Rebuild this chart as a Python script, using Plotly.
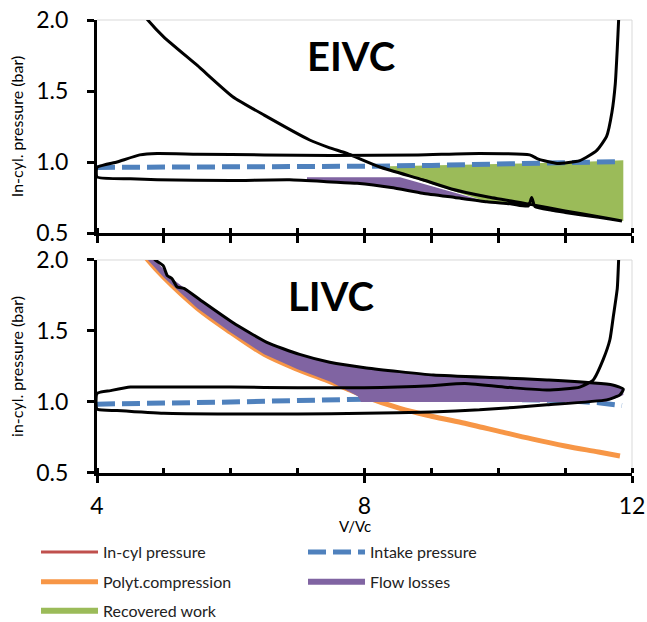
import plotly.graph_objects as go
from plotly.subplots import make_subplots

# ---------------- data ----------------
# EIVC: in-cylinder pressure loop (exhaust -> intake -> expansion -> compression)
eivc_cyl_x = [11.82, 11.8, 11.78, 11.75, 11.7, 11.62, 11.47, 11.22, 10.88, 10.6, 10.47,
              9.72, 8.8, 7.5, 6.5, 5.5, 4.9, 4.64, 4.3, 4.0,
              4.0, 4.5, 4.9, 6.0, 6.88, 7.5, 7.89, 8.4, 8.87, 9.35, 9.83, 10.2, 10.45, 10.5,
              10.55, 10.8, 11.0, 11.5, 11.85,
              11.5, 11.0, 10.5, 9.83, 9.3, 8.87, 8.23, 7.74, 7.48, 7.18, 6.5, 6.03, 5.5,
              5.0, 4.76, 4.6]
eivc_cyl_p = [2.2, 2.0, 1.8, 1.55, 1.35, 1.18, 1.08, 1.01, 0.99, 1.02, 1.05,
              1.06, 1.05, 1.045, 1.05, 1.055, 1.06, 1.05, 1.0, 0.962,
              0.895, 0.882, 0.875, 0.87, 0.875, 0.86, 0.85, 0.82, 0.78, 0.75, 0.72, 0.705,
              0.69, 0.75, 0.685, 0.66, 0.645, 0.61, 0.585,
              0.615, 0.655, 0.70, 0.755, 0.81, 0.875, 0.965, 1.06, 1.10, 1.155, 1.33, 1.46,
              1.68, 1.88, 2.0, 2.1]
eivc_intake_x = [4.0, 5.0, 6.0, 7.0, 8.0, 9.0, 10.0, 11.0, 11.85]
eivc_intake_p = [0.962, 0.962, 0.963, 0.965, 0.97, 0.976, 0.985, 0.993, 1.003]
eivc_recovered_x = [8.2, 9.0, 10.0, 11.0, 11.87, 11.87, 11.5, 11.0, 10.5, 9.83, 9.0, 8.2]
eivc_recovered_p = [0.968, 0.976, 0.986, 0.996, 1.012, 0.585, 0.61, 0.645, 0.69, 0.72, 0.845, 0.965]
eivc_losses_x = [7.14, 8.53, 9.83, 9.35, 8.87, 8.4, 7.89, 7.5, 7.14]
eivc_losses_p = [0.892, 0.892, 0.72, 0.75, 0.78, 0.82, 0.85, 0.86, 0.87]

# LIVC: in-cylinder pressure loop
livc_cyl_x = [11.82, 11.8, 11.78, 11.72, 11.67, 11.57, 11.42, 11.22, 10.73, 10.22, 9.5,
              9.0, 8.5, 8.0, 7.0, 6.0, 5.0, 4.5, 4.2, 4.0,
              4.0, 4.3, 5.0, 6.0, 7.0, 8.0, 9.0, 9.72, 10.73, 11.62, 11.82, 11.87,
              11.71, 10.73, 10.02, 9.03, 8.03, 7.48, 7.03, 6.54, 6.03, 5.54, 5.3, 5.2,
              5.12, 5.05, 4.99, 4.87, 4.75]
livc_cyl_p = [2.2, 2.0, 1.8, 1.6, 1.44, 1.3, 1.155, 1.105, 1.085, 1.1, 1.13,
              1.115, 1.105, 1.1, 1.1, 1.105, 1.105, 1.105, 1.08, 1.06,
              0.95, 0.94, 0.92, 0.915, 0.915, 0.92, 0.93, 0.945, 0.98, 1.015, 1.05, 1.09,
              1.12, 1.155, 1.17, 1.19, 1.24, 1.28, 1.335, 1.42, 1.56, 1.72, 1.80, 1.81,
              1.87, 1.89, 1.96, 2.0, 2.08]
livc_poly_x = [4.6, 4.76, 5.0, 5.5, 6.0, 6.5, 7.0, 7.5, 7.78, 8.0, 8.53, 9.0, 9.5, 9.77,
               10.0, 10.5, 11.0, 11.5, 11.82]
livc_poly_p = [2.1, 2.0, 1.876, 1.66, 1.49, 1.336, 1.23, 1.14, 1.085, 1.04, 0.955, 0.9,
               0.85, 0.82, 0.795, 0.74, 0.69, 0.648, 0.62]
livc_intake_x = [4.0, 5.0, 6.0, 7.0, 8.0, 9.0, 10.0, 11.0, 11.5, 11.85]
livc_intake_p = [0.985, 0.99, 1.0, 1.01, 1.02, 1.02, 1.02, 1.01, 0.995, 0.975]
livc_losses_x = [4.87, 5.12, 5.54, 6.03, 6.54, 7.03, 7.48, 8.03, 9.03, 10.02, 10.73, 11.71,
                 11.87, 11.87, 11.6, 11.0, 10.0, 9.0, 7.95, 7.9, 7.5, 7.0, 6.5, 6.0, 5.5,
                 5.0, 4.76]
livc_losses_p = [2.0, 1.87, 1.72, 1.56, 1.42, 1.335, 1.28, 1.24, 1.19, 1.17, 1.155, 1.12,
                 1.09, 1.05, 1.0, 1.0, 1.0, 1.0, 1.0, 1.04, 1.14, 1.23, 1.336, 1.49, 1.66,
                 1.876, 2.0]

x_ticks = [4, 5, 6, 7, 8, 9, 10, 11, 12]
x_ticktext = ["4", "", "", "", "8", "", "", "", "12"]
y_ticks = [0.5, 1.0, 1.5, 2.0]
y_ticktext = ["0.5", "1.0", "1.5", "2.0"]
panel_labels = ["EIVC", "LIVC"]
legend_names = ["In-cyl pressure", "Intake pressure", "Polyt.compression",
                "Flow losses", "Recovered work"]

# ---------------- styles ----------------
FONT = "Lato"
C_RED = "#C0504D"
C_BLUE = "#4F81BD"
C_ORANGE = "#F79646"
C_PURPLE = "#8064A2"
C_GREEN = "#9BBB59"

fig = make_subplots(rows=2, cols=1, shared_xaxes=False, vertical_spacing=0.0596)

# ---- EIVC panel ----
fig.add_trace(go.Scatter(x=eivc_recovered_x, y=eivc_recovered_p, fill="toself",
                         fillcolor=C_GREEN, line=dict(width=0, color=C_GREEN),
                         mode="lines", showlegend=False, hoverinfo="skip"), row=1, col=1)
fig.add_trace(go.Scatter(x=eivc_losses_x, y=eivc_losses_p, fill="toself",
                         fillcolor=C_PURPLE, line=dict(width=0, color=C_PURPLE),
                         mode="lines", showlegend=False, hoverinfo="skip"), row=1, col=1)
fig.add_trace(go.Scatter(x=eivc_intake_x, y=eivc_intake_p, mode="lines",
                         line=dict(color=C_BLUE, width=5, dash="18px,7px"),
                         name=legend_names[1], legend="legend"), row=1, col=1)
fig.add_trace(go.Scatter(x=eivc_cyl_x, y=eivc_cyl_p, mode="lines",
                         line=dict(color="black", width=3, shape="spline", smoothing=0.5),
                         showlegend=False), row=1, col=1)

# ---- LIVC panel ----
fig.add_trace(go.Scatter(x=livc_intake_x, y=livc_intake_p, mode="lines",
                         line=dict(color=C_BLUE, width=5, dash="18px,7px"),
                         showlegend=False), row=2, col=1)
fig.add_trace(go.Scatter(x=livc_poly_x, y=livc_poly_p, mode="lines",
                         line=dict(color=C_ORANGE, width=5, shape="spline"),
                         name=legend_names[2], legend="legend2", legendrank=1), row=2, col=1)
fig.add_trace(go.Scatter(x=livc_losses_x, y=livc_losses_p, fill="toself",
                         fillcolor=C_PURPLE, line=dict(width=0, color=C_PURPLE),
                         mode="lines", showlegend=False, hoverinfo="skip"), row=2, col=1)
fig.add_trace(go.Scatter(x=livc_cyl_x, y=livc_cyl_p, mode="lines",
                         line=dict(color="black", width=3, shape="spline", smoothing=0.5),
                         showlegend=False), row=2, col=1)

# ---- legend-only entries ----
fig.add_trace(go.Scatter(x=[None], y=[None], mode="lines",
                         line=dict(color=C_RED, width=3), name=legend_names[0],
                         legend="legend", legendrank=1), row=2, col=1)
fig.add_trace(go.Scatter(x=[None], y=[None], mode="lines",
                         line=dict(color=C_PURPLE, width=6), name=legend_names[3],
                         legend="legend2", legendrank=2), row=2, col=1)
fig.add_trace(go.Scatter(x=[None], y=[None], mode="lines",
                         line=dict(color=C_GREEN, width=6), name=legend_names[4],
                         legend="legend3"), row=2, col=1)

axis_common = dict(range=[4, 12], tickvals=x_ticks, ticks="outside", ticklen=7,
                   tickwidth=3, tickcolor="black", showline=True, linewidth=3,
                   linecolor="black", showgrid=False, zeroline=False,
                   minor=dict(tickvals=x_ticks, ticks="inside", ticklen=5, tickwidth=3,
                              tickcolor="black", showgrid=False),
                   tickfont=dict(family=FONT, size=23, color="black"))
fig.update_xaxes(**axis_common)
fig.update_xaxes(showticklabels=False, row=1, col=1)
fig.update_xaxes(ticktext=x_ticktext, ticklabelstandoff=3, row=2, col=1)

yaxis_common = dict(range=[0.5, 2.0], tickvals=y_ticks, ticktext=y_ticktext,
                    ticks="outside", ticklen=7, tickwidth=3, tickcolor="black",
                    showline=True, linewidth=3, linecolor="black", showgrid=False,
                    zeroline=False, ticklabelstandoff=14,
                    tickfont=dict(family=FONT, size=23, color="black"))
fig.update_yaxes(**yaxis_common)
fig.update_yaxes(title=dict(text="In-cyl. pressure (bar)",
                            font=dict(family=FONT, size=16, color="black"), standoff=9),
                 row=1, col=1)
fig.update_yaxes(title=dict(text="in-cyl. pressure (bar)",
                            font=dict(family=FONT, size=16, color="black"), standoff=9),
                 row=2, col=1)

# light grey plot-area border (top and right)
for xr, yr in [("x domain", "y domain"), ("x2 domain", "y2 domain")]:
    fig.add_shape(type="line", xref=xr, yref=yr, x0=0, x1=1, y0=1, y1=1,
                  line=dict(color="#D9D9D9", width=1), layer="below")
    fig.add_shape(type="line", xref=xr, yref=yr, x0=1, x1=1, y0=0, y1=1,
                  line=dict(color="#D9D9D9", width=1), layer="below")

fig.add_annotation(text="<b>%s</b>" % panel_labels[0], xref="x domain", yref="y domain",
                   x=0.474, y=0.83, xanchor="center", yanchor="middle", showarrow=False,
                   font=dict(family=FONT, size=40, color="black"))
fig.add_annotation(text="<b>%s</b>" % panel_labels[1], xref="x2 domain", yref="y2 domain",
                   x=0.437, y=0.831, xanchor="center", yanchor="middle", showarrow=False,
                   font=dict(family=FONT, size=40, color="black"))
fig.add_annotation(text="V/Vc", xref="paper", yref="paper", x=0.482, y=-0.116,
                   xanchor="center", yanchor="middle", showarrow=False,
                   font=dict(family=FONT, size=15, color="black"))

leg_common = dict(orientation="h", x=-0.114, xanchor="left", yanchor="top",
                  entrywidth=195, entrywidthmode="pixels", itemwidth=57,
                  font=dict(family=FONT, size=16, color="#222222"),
                  bgcolor="rgba(0,0,0,0)", traceorder="normal")

fig.update_layout(
    width=647, height=622,
    margin=dict(l=97, r=15, t=20, b=149, autoexpand=False),
    paper_bgcolor="white", plot_bgcolor="white",
    font=dict(family=FONT, color="black"),
    legend=dict(leg_common, y=-0.137),
    legend2=dict(leg_common, y=-0.203),
    legend3=dict(leg_common, y=-0.267),
)
fig.update_yaxes(domain=[0.5298, 1.0], row=1, col=1)
fig.update_yaxes(domain=[0.0, 0.4702], row=2, col=1)

fig.write_html("out.html")
